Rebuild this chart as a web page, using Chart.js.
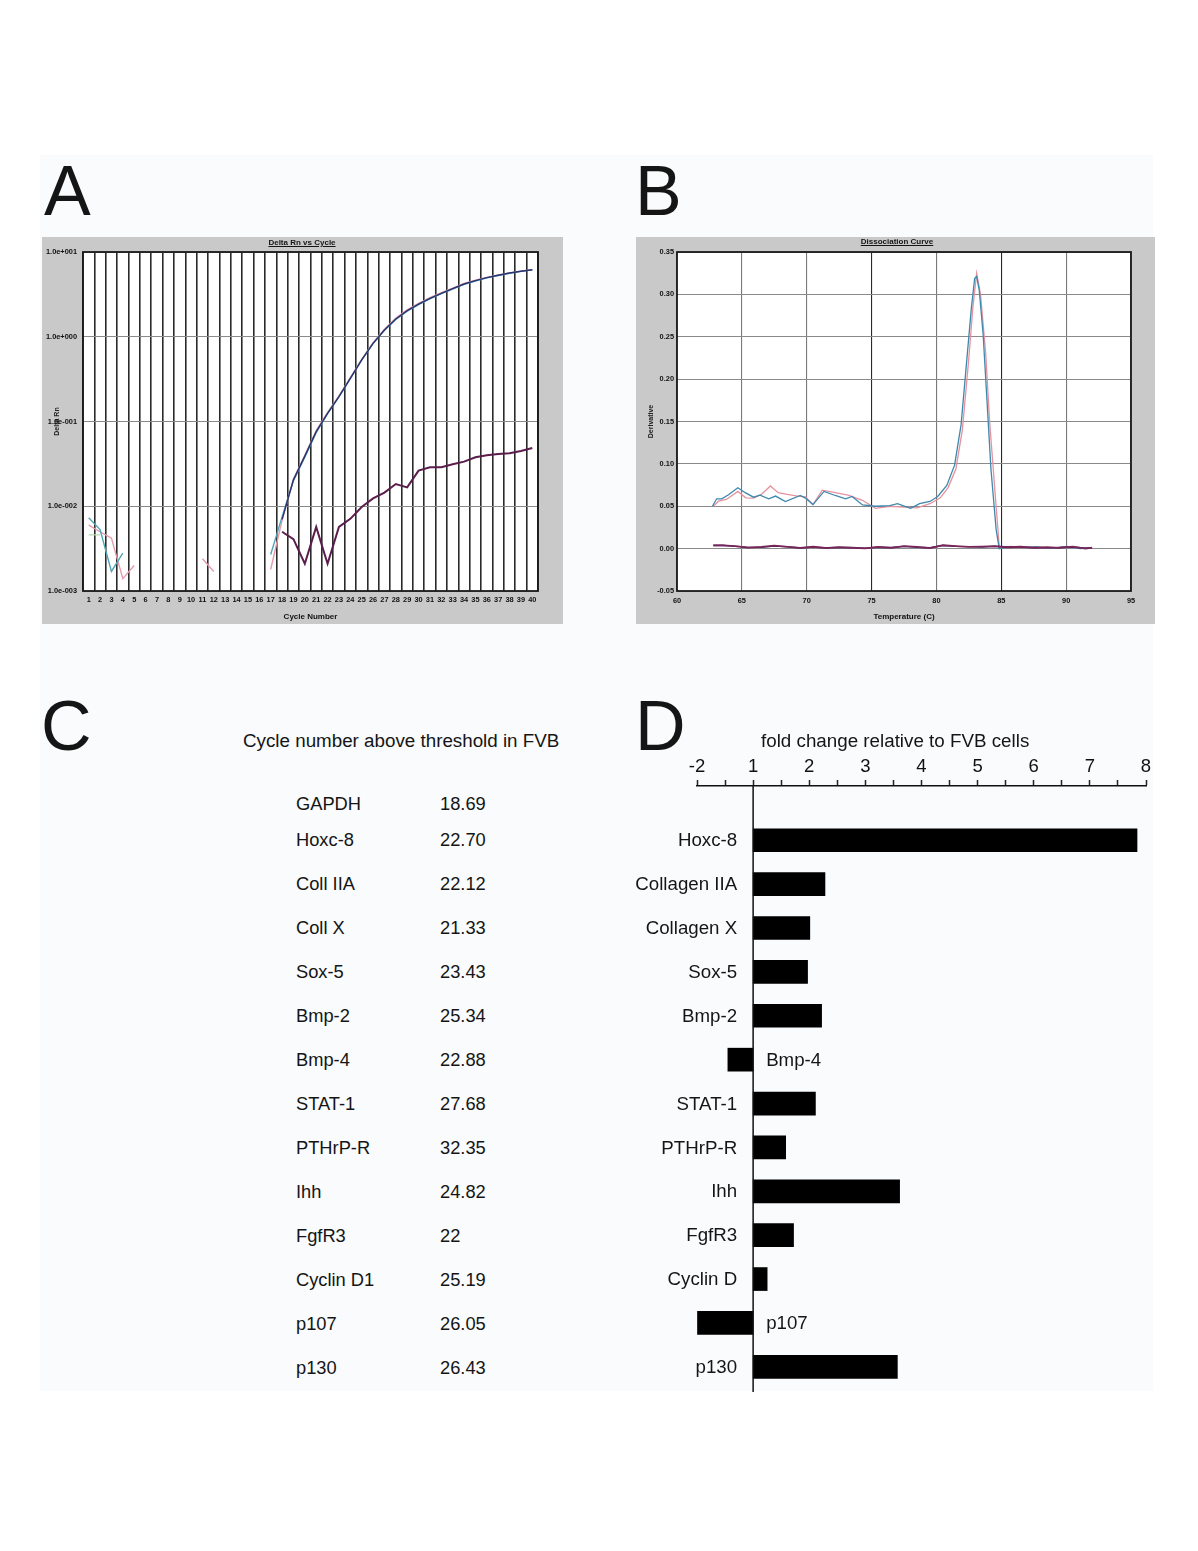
<!DOCTYPE html>
<html><head><meta charset="utf-8">
<script src="https://cdn.jsdelivr.net/npm/chart.js@4.4.1/dist/chart.umd.min.js"></script>
<style>
body{margin:0;background:#fff;width:1198px;height:1551px;position:relative;overflow:hidden;font-family:"Liberation Sans",Arial,sans-serif;color:#151515}
.abs{position:absolute;white-space:nowrap}
.big{font-size:70px;line-height:70px}
.t18{font-size:18.3px;line-height:18px}
.hdr{font-size:18.8px;line-height:18px}
.ttl{font-size:8px;line-height:8px;font-weight:bold;text-decoration:underline;text-align:center;width:200px}
canvas{position:absolute}
#sheet{position:absolute;left:40px;top:155px;width:1113px;height:1236px;background:#f9fbfc}
</style>
</head><body>
<div id="sheet"></div>
<canvas id="ca" width="521" height="387" style="left:42px;top:237px"></canvas>
<canvas id="cb" width="519" height="387" style="left:636px;top:237px"></canvas>
<canvas id="cd" width="540" height="650" style="left:620px;top:750px"></canvas>
<div id="txt"></div>
<script>
// ---------- Panel A: Delta Rn vs Cycle ----------
const cycleLabels = ['1','2','3','4','5','6','7','8','9','10','11','12','13','14','15','16','17','18','19','20','21','22','23','24','25','26','27','28','29','30','31','32','33','34','35','36','37','38','39','40'];
const ampTeal = [0.0073,0.0053,0.0017,0.0028,null,null,null,null,null,null,null,null,null,null,null,null,0.0027,0.0075,0.020,0.038,0.074,0.124,0.195,0.32,0.53,0.83,1.19,1.60,2.00,2.40,2.80,3.22,3.66,4.15,4.55,4.95,5.28,5.62,5.90,6.15];
const ampPink = [0.0060,0.0050,0.0042,0.0014,0.0020,null,null,null,null,null,0.0024,0.0017,null,null,null,null,0.0018,0.0068,0.021,0.040,0.078,0.128,0.200,0.33,0.54,0.85,1.23,1.66,2.08,2.48,2.90,3.32,3.75,4.25,4.64,5.02,5.35,5.68,5.95,6.20];
const ampGreen = [0.0046,0.0046,null,null,null,null,null,null,null,null,null,null,null,null,null,null,null,null,null,null,null,null,null,null,null,null,null,null,null,null,null,null,null,null,null,null,null,null,null,null];
const ampNavy = [null,null,null,null,null,null,null,null,null,null,null,null,null,null,null,null,null,0.0070,0.0205,0.039,0.076,0.125,0.196,0.323,0.532,0.836,1.20,1.62,2.03,2.43,2.84,3.25,3.69,4.19,4.59,4.98,5.31,5.65,5.92,6.18];
const ampNTC = [null,null,null,null,null,null,null,null,null,null,null,null,null,null,null,null,null,0.0050,0.0041,0.0021,0.0057,0.0021,0.0057,0.0071,0.0098,0.0124,0.0145,0.0183,0.0167,0.0263,0.0288,0.0289,0.0313,0.0336,0.0378,0.0399,0.0414,0.0421,0.0449,0.0487];
const yTickValsA = [0.001,0.01,0.1,1,10];
const yTickLabelsA = ['1.0e-003','1.0e-002','1.0e-001','1.0e+000','1.0e+001'];

// ---------- Panel B: Dissociation Curve ----------
const meltTempBlue = [62.73,63.06,63.45,63.97,64.69,65.26,65.9,66.4,67.07,67.6,68.36,69.5,69.9,70.48,71.33,72.2,73.0,73.5,74.3,75.3,76.4,77.0,78.0,78.7,79.5,80.1,80.8,81.4,81.9,82.4,82.7,82.95,83.1,83.3,83.6,83.9,84.2,84.6,84.84,85.7,86.7,87.7,88.8,90.05,91.1,91.9];
const meltValBlue = [0.050,0.0588,0.0588,0.0635,0.0719,0.066,0.0607,0.063,0.0588,0.062,0.0556,0.0627,0.0596,0.052,0.0675,0.0627,0.0588,0.0615,0.0516,0.050,0.0508,0.053,0.0476,0.053,0.0556,0.0615,0.0746,0.0985,0.146,0.233,0.285,0.319,0.321,0.305,0.253,0.174,0.0945,0.023,0.0,0.0024,0.0012,0.002,0.0004,0.0024,0.0,0.0012];
const meltTempPink = [62.8,63.2,63.8,64.7,65.3,65.9,66.5,67.2,67.8,68.5,69.3,69.9,70.48,71.2,72.2,73.2,74.3,75.3,76.4,77.5,78.5,79.5,80.3,80.9,81.5,82.0,82.5,82.8,83.1,83.4,83.8,84.1,84.5,84.85,85.7,86.7,87.7,88.8,90.05,91.1,91.9];
const meltValPink = [0.050,0.056,0.058,0.0675,0.060,0.0595,0.064,0.074,0.066,0.064,0.062,0.061,0.052,0.069,0.066,0.063,0.057,0.0476,0.050,0.049,0.048,0.053,0.060,0.072,0.094,0.140,0.225,0.283,0.325,0.300,0.230,0.150,0.070,0.001,0.0026,0.0014,0.0021,0.0006,0.0025,0.0002,0.0013];
const ntcTemps = [62.8,63.5,64.5,65.5,66.5,67.5,68.5,69.5,70.5,71.5,72.5,73.5,74.5,75.5,76.5,77.5,78.5,79.5,80.5,81.5,82.5,83.5,84.5,85.5,86.5,87.5,88.5,89.5,90.5,91.5,92.0];
const ntcValA = [0.0040,0.0038,0.0030,0.0012,0.0020,0.0035,0.0020,0.0010,0.0022,0.0006,0.0018,0.0010,0.0002,0.0020,0.0010,0.0030,0.0020,0.0006,0.0040,0.0030,0.0020,0.0024,0.0030,0.0016,0.0022,0.0010,0.0016,0.0010,0.0024,0.0000,0.0012];
const ntcValB = [0.0035,0.0040,0.0026,0.0015,0.0016,0.0030,0.0024,0.0008,0.0018,0.0010,0.0014,0.0014,0.0006,0.0016,0.0014,0.0026,0.0016,0.0010,0.0036,0.0026,0.0024,0.0020,0.0026,0.0020,0.0018,0.0014,0.0012,0.0014,0.0020,0.0004,0.0010];
const yTickValsB = [-0.05,0,0.05,0.10,0.15,0.20,0.25,0.30,0.35];
const yTickLabelsB = ['-0.05','0.00','0.05','0.10','0.15','0.20','0.25','0.30','0.35'];

// ---------- Panel C: table ----------
const tableGenes = ['GAPDH','Hoxc-8','Coll IIA','Coll X','Sox-5','Bmp-2','Bmp-4','STAT-1','PTHrP-R','Ihh','FgfR3','Cyclin D1','p107','p130'];
const tableCycles = ['18.69','22.70','22.12','21.33','23.43','25.34','22.88','27.68','32.35','24.82','22','25.19','26.05','26.43'];

// ---------- Panel D: fold change ----------
const foldGenes = ['Hoxc-8','Collagen IIA','Collagen X','Sox-5','Bmp-2','Bmp-4','STAT-1','PTHrP-R','Ihh','FgfR3','Cyclin D','p107','p130'];
const foldValues = [7.84,2.28,2.01,1.97,2.22,0.55,2.11,1.58,3.61,1.72,1.25,0.0,3.57];
const foldBase = 1;
const foldTickLabels = ['-2','1','2','3','4','5','6','7','8'];

Chart.defaults.font.family = '"Liberation Sans", Arial, sans-serif';
Chart.defaults.color = '#111';

const panelBg = {
  id:'panelBg',
  beforeDraw(chart){
    const c = chart.ctx, a = chart.chartArea;
    c.save();
    c.fillStyle = '#c9c9c9';
    c.fillRect(0,0,chart.width,chart.height);
    c.fillStyle = '#ffffff';
    c.fillRect(a.left,a.top,a.right-a.left,a.bottom-a.top);
    c.restore();
  },
  afterDraw(chart){
    const c = chart.ctx, a = chart.chartArea;
    c.save();
    c.strokeStyle = '#1a1a1a';
    c.lineWidth = 1.8;
    c.strokeRect(a.left,a.top,a.right-a.left,a.bottom-a.top);
    c.restore();
  }
};

const smallFont = {size:7.4, weight:'bold'};

// Panel A chart (first dataset is drawn on top)
new Chart(document.getElementById('ca'), {
  type:'line',
  data:{
    labels: cycleLabels,
    datasets:[
      {data: ampNTC, borderColor:'#5a1d4c', borderWidth:2},
      {data: ampNavy, borderColor:'#2c3170', borderWidth:1.4},
      {data: ampTeal, borderColor:'#4fa6b8', borderWidth:1.4},
      {data: ampPink, borderColor:'#e79aab', borderWidth:1.4},
      {data: ampGreen, borderColor:'#b9d9b0', borderWidth:1.2}
    ]
  },
  options:{
    responsive:false, animation:false, devicePixelRatio:1,
    spanGaps:false,
    elements:{point:{radius:0}, line:{tension:0}},
    layout:{padding:{left:0,right:25,top:15,bottom:0}},
    plugins:{legend:{display:false}, tooltip:{enabled:false}},
    scales:{
      x:{
        type:'category', offset:true,
        grid:{offset:true, color:'#2a2a2a', lineWidth:1.6, drawTicks:false},
        border:{display:false},
        ticks:{font:smallFont, color:'#111', padding:5, autoSkip:false, maxRotation:0},
        title:{display:true, text:'Cycle Number', font:{size:8, weight:'bold'}, color:'#111', padding:{top:0,bottom:2}},
        afterFit(s){ s.height = 33; }
      },
      y:{
        type:'logarithmic', min:0.001, max:10,
        afterBuildTicks(s){ s.ticks = yTickValsA.map(v=>({value:v})); },
        grid:{color:'#8a8a8a', lineWidth:1, drawTicks:false},
        border:{display:false},
        ticks:{font:smallFont, color:'#111', padding:6, callback:(v,i)=>yTickLabelsA[i]},
        title:{display:true, text:'Delta Rn', font:{size:7, weight:'bold'}, color:'#222', padding:{top:11,bottom:0}},
        afterFit(s){ s.width = 41; }
      }
    }
  },
  plugins:[panelBg]
});

// Panel B chart
const pts = (xs, ys) => xs.map((x,i)=>({x:x, y:ys[i]}));
new Chart(document.getElementById('cb'), {
  type:'line',
  data:{
    datasets:[
      {data: pts(ntcTemps, ntcValA), borderColor:'#7a2457', borderWidth:1.8},
      {data: pts(ntcTemps, ntcValB), borderColor:'#2f2f6e', borderWidth:1.4},
      {data: pts(meltTempBlue, meltValBlue), borderColor:'#3d88ad', borderWidth:1.3},
      {data: pts(meltTempPink, meltValPink), borderColor:'#e6929f', borderWidth:1.3}
    ]
  },
  options:{
    responsive:false, animation:false, devicePixelRatio:1,
    elements:{point:{radius:0}, line:{tension:0}},
    layout:{padding:{left:0,right:24,top:15,bottom:0}},
    plugins:{legend:{display:false}, tooltip:{enabled:false}},
    scales:{
      x:{
        type:'linear', min:60, max:95,
        ticks:{stepSize:5, font:smallFont, color:'#111', padding:6, maxRotation:0},
        grid:{color:(c)=> (c.tick && (c.tick.value===75 || c.tick.value===85)) ? '#2a2a2a' : '#7a7a7a', lineWidth:1.1, drawTicks:false},
        border:{display:false},
        title:{display:true, text:'Temperature (C)', font:{size:8, weight:'bold'}, color:'#111', padding:{top:0,bottom:2}},
        afterFit(s){ s.height = 33; }
      },
      y:{
        type:'linear', min:-0.05, max:0.35,
        afterBuildTicks(s){ s.ticks = yTickValsB.map(v=>({value:v})); },
        grid:{color:'#8a8a8a', lineWidth:1, drawTicks:false},
        border:{display:false},
        ticks:{font:smallFont, color:'#111', padding:3, callback:(v,i)=>yTickLabelsB[i]},
        title:{display:true, text:'Derivative', font:{size:7, weight:'bold'}, color:'#222', padding:{top:11,bottom:0}},
        afterFit(s){ s.width = 41; }
      }
    }
  },
  plugins:[panelBg]
});

// Panel D chart
const dLabels = {
  id:'dLabels',
  afterDatasetsDraw(chart){
    const c = chart.ctx, xs = chart.scales.x, ys = chart.scales.y, a = chart.chartArea;
    const x1 = xs.getPixelForValue(foldBase);
    c.save();
    c.strokeStyle = '#111';
    c.lineWidth = 1.5;
    c.beginPath(); c.moveTo(x1, a.top); c.lineTo(x1, a.bottom); c.stroke();
    c.font = '18.7px "Liberation Sans", Arial, sans-serif';
    c.fillStyle = '#151515';
    c.textBaseline = 'middle';
    foldGenes.forEach((g,i)=>{
      const y = ys.getPixelForValue(i) + 1;
      if (foldValues[i] >= foldBase) { c.textAlign = 'right'; c.fillText(g, x1 - 16, y); }
      else { c.textAlign = 'left'; c.fillText(g, x1 + 13, y); }
    });
    c.restore();
  }
};
new Chart(document.getElementById('cd'), {
  type:'bar',
  data:{
    datasets:[{
      data: foldGenes.map((g,i)=>({x:[foldBase, foldValues[i]], y:i})),
      backgroundColor:'#000', borderWidth:0, barThickness:23
    }]
  },
  options:{
    indexAxis:'y', responsive:false, animation:false, devicePixelRatio:1,
    layout:{padding:{left:77,right:14,top:0,bottom:8}},
    plugins:{legend:{display:false}, tooltip:{enabled:false}},
    scales:{
      x:{
        type:'linear', position:'top', min:0, max:8,
        ticks:{stepSize:0.5, autoSkip:false, maxRotation:0, padding:2, color:'#111', font:{size:18.5},
          callback:(v)=> Number.isInteger(v) ? foldTickLabels[v] : ''},
        grid:{drawOnChartArea:false, drawTicks:true, tickLength:6, tickColor:'#222', tickWidth:1.5},
        border:{display:true, color:'#111', width:1.5},
        afterFit(s){ s.height = 36; }
      },
      y:{type:'linear', reverse:true, min:-1.237, max:12.574, offset:false, bounds:'data', grace:0, display:false,
         grid:{offset:false}}
    }
  },
  plugins:[dLabels]
});

// ---------- HTML text ----------
const txt = document.getElementById('txt');
function put(text, left, top, cls, extra){
  const d = document.createElement('div');
  d.className = 'abs ' + cls;
  d.style.left = left + 'px'; d.style.top = top + 'px';
  if (extra) Object.assign(d.style, extra);
  d.textContent = text;
  txt.appendChild(d);
  return d;
}
put('A', 44, 156, 'big');
put('B', 635, 156, 'big');
put('C', 41, 691, 'big');
put('D', 635, 691, 'big');
put('Delta Rn vs Cycle', 202, 239, 'ttl');
put('Dissociation Curve', 797, 238, 'ttl');
put('Cycle number above threshold in FVB', 243, 732, 'hdr');
put('fold change relative to FVB cells', 761, 732, 'hdr');
tableGenes.forEach((g,i)=>{
  const cy = i === 0 ? 804 : 840 + (i-1)*44;
  put(g, 296, cy - 8.8, 't18');
  put(tableCycles[i], 440, cy - 8.8, 't18');
});
</script>
</body></html>
